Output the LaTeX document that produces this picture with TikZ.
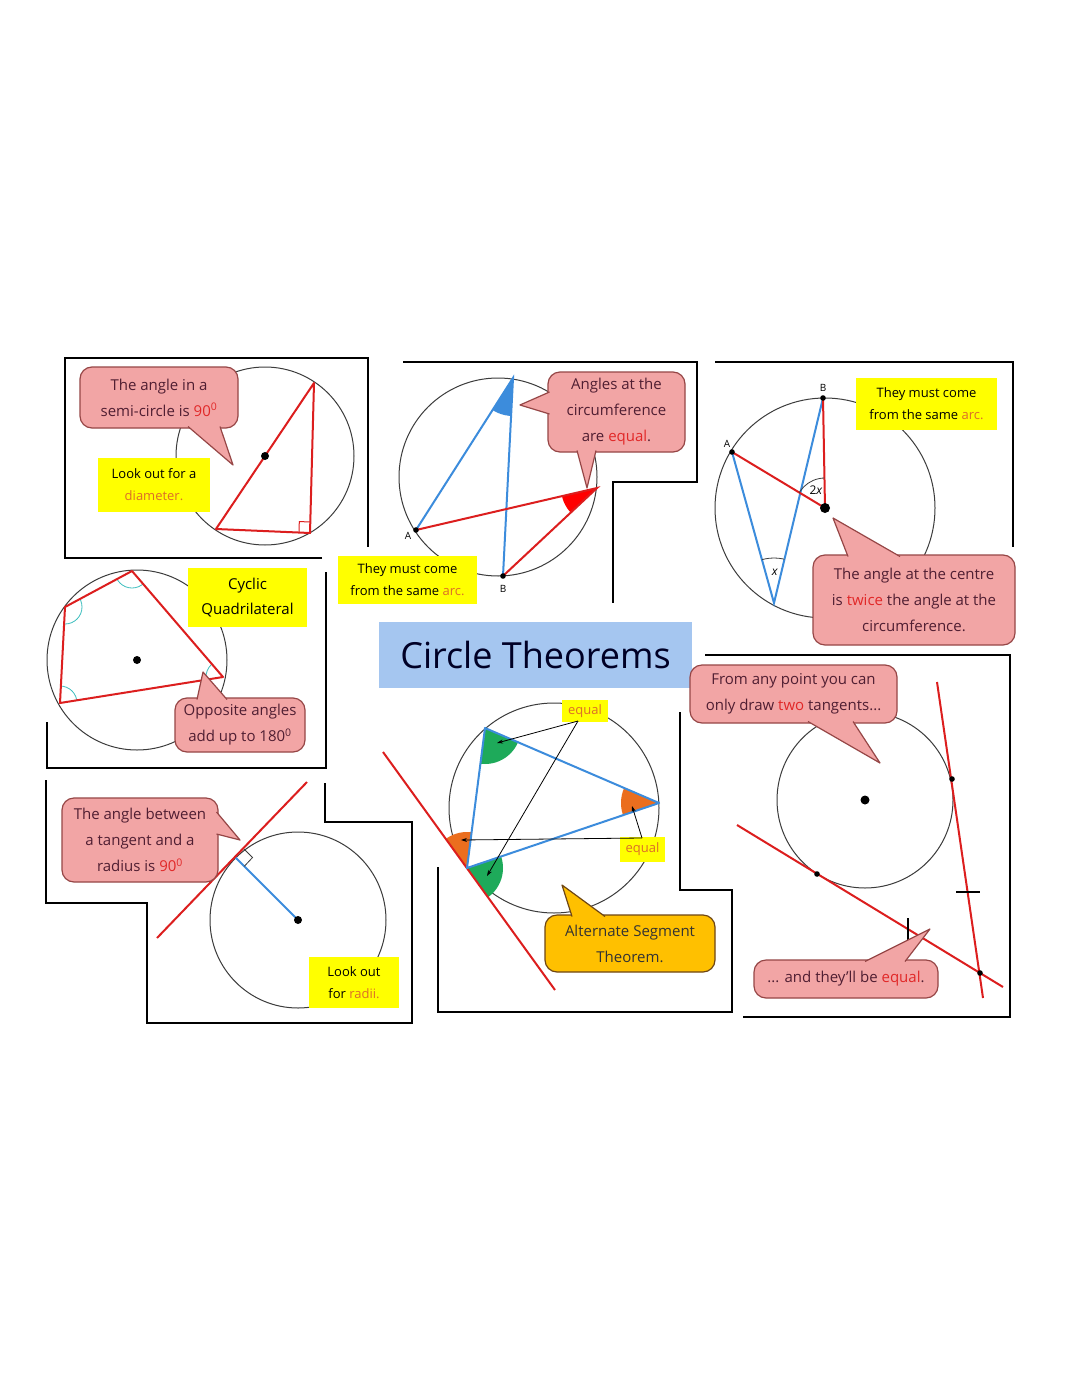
\documentclass[tikz,border=0pt]{standalone}
\usepackage{fontspec}
\setmainfont{Open Sans}
\usetikzlibrary{calc,arrows.meta}
\definecolor{bubfill}{RGB}{242,165,165}
\definecolor{bubline}{RGB}{150,70,70}
\definecolor{bubtext}{RGB}{80,30,50}
\definecolor{redw}{RGB}{225,40,40}
\definecolor{orw}{RGB}{220,110,40}
\definecolor{ylw}{RGB}{255,255,0}
\definecolor{lred}{RGB}{220,30,30}
\definecolor{lblue}{RGB}{60,140,220}
\definecolor{circ}{RGB}{60,60,60}
\definecolor{titleblue}{RGB}{165,198,240}
\definecolor{angorange}{RGB}{235,110,30}
\definecolor{anggreen}{RGB}{30,170,90}
\definecolor{cyanarc}{RGB}{60,190,190}
\definecolor{altfill}{RGB}{255,192,0}
\definecolor{altline}{RGB}{110,70,20}
\tikzset{
  frame/.style={line width=2.6pt, black},
  circline/.style={draw=circ, line width=1pt},
  redline/.style={draw=lred, line width=2pt},
  blueline/.style={draw=lblue, line width=2pt},
  bubble/.style={draw=bubline, fill=bubfill, line width=1.2pt, rounded corners=12pt,
    text=bubtext, align=center, inner sep=0pt, font=\fontsize{15}{26}\selectfont},
  altbubble/.style={bubble, draw=altline, fill=altfill, text=black!80},
  ybox/.style={fill=ylw, inner sep=0pt, align=center, text=black,
    font=\fontsize{13}{22}\selectfont},
  ptlabel/.style={font=\fontsize{10}{10}\selectfont, inner sep=0pt},
  pointer/.style={-{Stealth[length=6pt,width=4pt]}, line width=0.8pt, black},
}
\newcommand\mytail[5]{\fill[#1] #3 -- #4 -- #5 -- cycle; \draw[#2, line width=1.2pt, line join=round] #3 -- #4 -- #5;}
\begin{document}
\begin{tikzpicture}[x=1pt,y=-1pt]
\useasboundingbox[fill=white] (0,0) rectangle (1080,1394);

% ---------- frames ----------
\draw[frame] (322,558) -- (65,558) -- (65,358) -- (368,358) -- (368,547);
\draw[frame] (403,362) -- (697,362) -- (697,482) -- (613,482) -- (613,603);
\draw[frame] (715,362) -- (1013,362) -- (1013,547);
\draw[frame] (326,572) -- (326,768) -- (47,768) -- (47,722);
\draw[frame] (46,780) -- (46,903) -- (147,903) -- (147,1023) -- (412,1023) -- (412,822) -- (325,822) -- (325,783);
\draw[frame] (438,867) -- (438,1012) -- (732,1012) -- (732,890) -- (680,890) -- (680,712);
\draw[frame] (705,655) -- (1010,655) -- (1010,1017) -- (743,1017);

% ---------- panel 1: semicircle ----------
\coordinate (O1) at (265,456);
\coordinate (T1) at (314,383);
\coordinate (D1) at (216,529);
\coordinate (C1) at (310,533);
\draw[circline] (O1) circle[radius=89pt];
\draw[redline, line join=round] (T1) -- (D1) -- (C1) -- cycle;
\coordinate (ra1) at ($(C1)!11pt!(T1)$);
\coordinate (ra2) at ($(C1)!11pt!(D1)$);
\draw[lred, line width=1pt] (ra1) -- ($(ra1)+(ra2)-(C1)$) -- (ra2);
\fill (O1) circle[radius=4pt];
\node[bubble, minimum width=158pt, minimum height=61pt] (b1) at (159,397.5)
  {The angle in a\\semi-circle is \textcolor{redw}{90\textsuperscript{0}}};
\mytail{bubfill}{bubline}{(188,426.5)}{(233,465)}{(220,426.5)}
\node[ybox, minimum width=112pt, minimum height=54pt] (y1) at (154,485)
  {Look out for a\\\textcolor{orw}{diameter.}};

% ---------- panel 2: same arc ----------
\coordinate (O2) at (498,477);
\coordinate (T2) at (513,378);
\coordinate (A2) at (416,530);
\coordinate (B2) at (503,576);
\coordinate (R2) at (597,488);
\draw[circline] (O2) circle[radius=99pt];
\begin{scope}\clip (T2) circle[radius=38pt]; \fill[lblue] (T2) -- (A2) -- (B2) -- cycle;\end{scope}
\begin{scope}\clip (R2) circle[radius=36pt]; \fill[red] (R2) -- (A2) -- (B2) -- cycle;\end{scope}
\draw[blueline] (A2) -- (T2) -- (B2);
\draw[redline] (A2) -- (R2) -- (B2);
\fill (A2) circle[radius=2.8pt];
\fill (B2) circle[radius=2.8pt];
\node[ptlabel] (lA2) at (408,536) {A};
\node[ptlabel] (lB2) at (503,589) {B};
\node[bubble, minimum width=137pt, minimum height=80pt] (b2) at (616.5,412)
  {Angles at the\\circumference\\are \textcolor{redw}{equal}.};
\mytail{bubfill}{bubline}{(549.5,392)}{(520,405)}{(549.5,414)}
\mytail{bubfill}{bubline}{(577,450.5)}{(587,488)}{(596,450.5)}
\node[ybox, minimum width=139pt, minimum height=48pt] (y2) at (407.5,580)
  {They must come\\from the same \textcolor{orw}{arc.}};

% ---------- panel 3: centre twice ----------
\coordinate (O3) at (825,508);
\coordinate (B3) at (823,398);
\coordinate (A3) at (732,452);
\coordinate (C3) at (774,603);
\draw[circline] (O3) circle[radius=110pt];
\draw[blueline] (A3) -- (C3) -- (B3);
\draw[redline] (A3) -- (O3) -- (B3);
\begin{scope}\clip (O3) -- (A3) -- (B3) -- cycle; \draw[circline, line width=0.8pt] (O3) circle[radius=30pt];\end{scope}
\begin{scope}\clip (C3) -- (A3) -- (B3) -- cycle; \draw[circline, line width=0.8pt] (C3) circle[radius=45pt];\end{scope}
\fill (O3) circle[radius=5pt];
\fill (A3) circle[radius=2.8pt];
\fill (B3) circle[radius=2.8pt];
\node[ptlabel] (lA3) at (727,444) {A};
\node[ptlabel] (lB3) at (823,388) {B};
\node[font=\fontsize{12}{12}\selectfont, inner sep=0pt] (l2x) at (816,490) {2\textit{x}};
\node[font=\fontsize{12}{12}\selectfont, inner sep=0pt] (lx) at (775,572) {\textit{x}};
\node[ybox, minimum width=141pt, minimum height=52pt] (y3) at (926.5,404)
  {They must come\\from the same \textcolor{orw}{arc.}};
\node[bubble, minimum width=202pt, minimum height=90pt] (b3) at (914,600)
  {The angle at the centre\\is \textcolor{redw}{twice} the angle at the\\circumference.};
\mytail{bubfill}{bubline}{(848,556.5)}{(833,518)}{(900,556.5)}

% ---------- panel 4: cyclic quadrilateral ----------
\coordinate (O4) at (137,660);
\coordinate (P41) at (132,571);
\coordinate (P42) at (65,607);
\coordinate (P43) at (60,703);
\coordinate (P44) at (223,677);
\draw[circline] (O4) circle[radius=90pt];
\begin{scope}\clip (P41) -- (P42) -- (P44) -- cycle; \draw[cyanarc, line width=0.8pt] (P41) circle[radius=17pt];\end{scope}
\begin{scope}\clip (P42) -- (P41) -- (P43) -- cycle; \draw[cyanarc, line width=0.8pt] (P42) circle[radius=17pt];\end{scope}
\begin{scope}\clip (P43) -- (P42) -- (P44) -- cycle; \draw[cyanarc, line width=0.8pt] (P43) circle[radius=17pt];\end{scope}
\begin{scope}\clip (P44) -- (P41) -- (P43) -- cycle; \draw[cyanarc, line width=0.8pt] (P44) circle[radius=17pt];\end{scope}
\draw[redline, line join=round] (P41) -- (P42) -- (P43) -- (P44) -- cycle;
\fill (O4) circle[radius=4pt];
\node[ybox, minimum width=119pt, minimum height=59pt, font=\fontsize{15}{25}\selectfont] (y4) at (247.5,597.5)
  {Cyclic\\Quadrilateral};
\node[bubble, minimum width=130pt, minimum height=54pt] (b4) at (240,725)
  {Opposite angles\\add up to 180\textsuperscript{0}};
\mytail{bubfill}{bubline}{(197,699.5)}{(203,672)}{(227,699.5)}

% ---------- panel 5: tangent & radius ----------
\coordinate (O5) at (298,920);
\coordinate (TP5) at (235.8,857.8);
\coordinate (L5a) at (157,938);
\coordinate (L5b) at (307,782);
\draw[circline] (O5) circle[radius=88pt];
\draw[redline] (L5a) -- (L5b);
\draw[blueline] (TP5) -- (O5);
\coordinate (sq1) at ($(TP5)!12pt!(O5)$);
\coordinate (sq2) at ($(TP5)!12pt!(L5b)$);
\draw[circline, line width=0.8pt] (sq1) -- ($(sq1)+(sq2)-(TP5)$) -- (sq2);
\fill (O5) circle[radius=4pt];
\node[bubble, minimum width=156pt, minimum height=84pt] (b5) at (140,840)
  {The angle between\\a tangent and a\\radius is \textcolor{redw}{90\textsuperscript{0}}};
\mytail{bubfill}{bubline}{(216.5,812)}{(240,840)}{(216.5,834)}
\node[ybox, minimum width=90pt, minimum height=51pt] (y5) at (354,982.5)
  {Look out\\for \textcolor{orw}{radii.}};

% ---------- title ----------
\node[fill=titleblue, minimum width=313pt, minimum height=66pt, inner sep=0pt,
  font=\fontsize{36}{36}\selectfont, text=black!85!blue] (title) at (535.5,655) {Circle Theorems};

% ---------- panel 6: alternate segment ----------
\coordinate (O6) at (554,808);
\coordinate (P6) at (467,868);
\coordinate (Q6) at (485,728);
\coordinate (R6) at (659,803);
\coordinate (L6a) at (383,752);
\coordinate (L6b) at (555,990);
\draw[circline] (O6) circle[radius=105pt];
\begin{scope}\clip (Q6) circle[radius=36pt]; \fill[anggreen] (Q6) -- (P6) -- (R6) -- cycle;\end{scope}
\begin{scope}\clip (P6) circle[radius=36pt]; \fill[anggreen] (P6) -- (L6b) -- (R6) -- cycle;\end{scope}
\begin{scope}\clip (R6) circle[radius=38pt]; \fill[angorange] (R6) -- (Q6) -- (P6) -- cycle;\end{scope}
\begin{scope}\clip (P6) circle[radius=36pt]; \fill[angorange] (P6) -- (L6a) -- (Q6) -- cycle;\end{scope}
\draw[redline] (L6a) -- (L6b);
\draw[blueline, line join=round] (P6) -- (Q6) -- (R6) -- cycle;
\node[ybox, minimum width=46pt, minimum height=22pt, text=orw] (e1) at (585,711) {equal};
\node[ybox, minimum width=45pt, minimum height=25pt, text=orw] (e2) at (642.5,849.5) {equal};
\coordinate (e1s) at (578,721);
\coordinate (e2s) at (642,838);
\coordinate (gQ) at (497,743);
\coordinate (gP) at (487,876);
\coordinate (oR) at (632,806);
\coordinate (oP) at (461,840);
\draw[pointer] (e1s) -- (gQ);
\draw[pointer] (e1s) -- (gP);
\draw[pointer] (e2s) -- (oR);
\draw[pointer] (e2s) -- (oP);
\node[altbubble, minimum width=170pt, minimum height=57pt] (b6) at (630,943.5)
  {Alternate Segment\\Theorem.};
\mytail{altfill}{altline}{(572,916.5)}{(562,885)}{(605,916.5)}

% ---------- panel 7: two tangents ----------
\coordinate (O7) at (865,800);
\coordinate (L7a) at (937,682);
\coordinate (L7b) at (983,998);
\coordinate (M7a) at (737,825);
\coordinate (M7b) at (1003,987);
\coordinate (T7a) at (952,779);
\coordinate (T7b) at (817,874);
\coordinate (X7) at (980,973);
\draw[circline] (O7) circle[radius=88pt];
\draw[redline] (L7a) -- (L7b);
\draw[redline] (M7a) -- (M7b);
\fill (O7) circle[radius=4.5pt];
\fill (T7a) circle[radius=2.8pt];
\fill (T7b) circle[radius=2.8pt];
\fill (X7) circle[radius=2.8pt];
\coordinate (tk1a) at (956,892);
\coordinate (tk1b) at (980,892);
\coordinate (tk2a) at (908,918);
\coordinate (tk2b) at (908,940);
\draw[line width=1.6pt] (tk1a) -- (tk1b);
\draw[line width=1.6pt] (tk2a) -- (tk2b);
\node[bubble, minimum width=207pt, minimum height=58pt] (b7a) at (793.5,694)
  {From any point you can\\only draw \textcolor{redw}{two} tangents...};
\mytail{bubfill}{bubline}{(808,721.5)}{(880,763)}{(853,721.5)}
\node[bubble, minimum width=184pt, minimum height=38pt] (b7b) at (846,979)
  {... and they'll be \textcolor{redw}{equal}.};
\mytail{bubfill}{bubline}{(865,961.5)}{(930,929)}{(905,961.5)}
\end{tikzpicture}
\end{document}
